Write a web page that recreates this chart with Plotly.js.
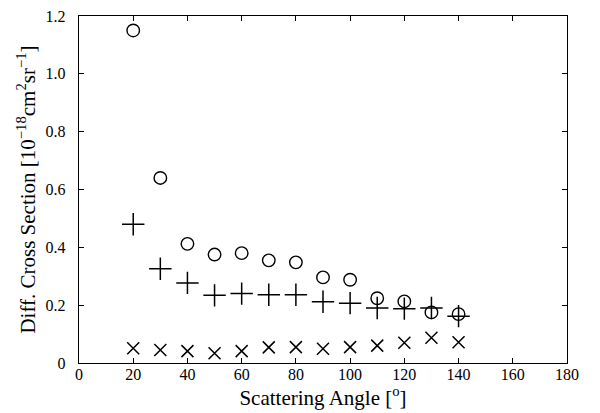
<!DOCTYPE html>
<html><head><meta charset="utf-8">
<script src="https://cdn.plot.ly/plotly-3.0.1.min.js"></script>
<style>html,body{margin:0;padding:0;background:#fff}#chart{width:600px;height:413px}</style>
</head><body><div id="chart"></div>
<script>
const angles = [20, 30, 40, 50, 60, 70, 80, 90, 100, 110, 120, 130, 140];
const circleVals = [1.15, 0.64, 0.412, 0.375, 0.38, 0.355, 0.348, 0.296, 0.288, 0.224, 0.213, 0.175, 0.169];
const plusVals = [0.48, 0.326, 0.277, 0.234, 0.24, 0.236, 0.236, 0.212, 0.207, 0.19, 0.188, 0.19, 0.162];
const crossVals = [0.051, 0.045, 0.041, 0.034, 0.041, 0.054, 0.055, 0.049, 0.055, 0.06, 0.07, 0.087, 0.072];
const yTickVals = [0, 0.2, 0.4, 0.6, 0.8, 1.0, 1.2];
const yTickText = ['0', '0.2', '0.4', '0.6', '0.8', '1.0', '1.2'];
const xTickVals = [0, 20, 40, 60, 80, 100, 120, 140, 160, 180];

const family = 'Liberation Serif, Times New Roman, serif';
const traces = [
  {x: angles, y: circleVals, mode: 'markers', type: 'scatter',
   marker: {symbol: 'circle-open', size: 12.5, color: '#000', line: {width: 1.4, color: '#000'}}},
  {x: angles, y: plusVals, mode: 'markers', type: 'scatter',
   marker: {symbol: 'cross-thin-open', size: 16, color: '#000', line: {width: 1.5, color: '#000'}}},
  {x: angles, y: crossVals, mode: 'markers', type: 'scatter',
   marker: {symbol: 'x-thin-open', size: 12, color: '#000', line: {width: 1.5, color: '#000'}}}
];
const axisCommon = {
  showgrid: false, zeroline: false, showline: true, linecolor: '#000', linewidth: 1.2,
  mirror: 'allticks', ticks: 'inside', ticklen: 5, tickwidth: 1, tickcolor: '#000',
  tickfont: {family: family, size: 16, color: '#000'}
};
const layout = {
  width: 600, height: 413,
  margin: {l: 79, r: 33, t: 16, b: 50},
  paper_bgcolor: '#fff', plot_bgcolor: '#fff',
  showlegend: false,
  font: {family: family, color: '#000'},
  xaxis: Object.assign({}, axisCommon, {
    range: [0, 180], tickvals: xTickVals, ticklabelstandoff: -3,
    title: {text: 'Scattering Angle [<sup>o</sup>]', font: {family: family, size: 21, color: '#000'}, standoff: 0}
  }),
  yaxis: Object.assign({}, axisCommon, {
    range: [0, 1.2], tickvals: yTickVals, ticktext: yTickText, ticklabelstandoff: 9,
    title: {text: 'Diff. Cross Section [10<sup>\u221218</sup>cm<sup>2</sup>sr<sup>\u22121</sup>]\u00a0\u00a0\u00a0\u00a0\u00a0\u00a0', font: {family: family, size: 21, color: '#000'}, standoff: 4}
  })
};
Plotly.newPlot('chart', traces, layout, {displayModeBar: false, staticPlot: true});
</script></body></html>
